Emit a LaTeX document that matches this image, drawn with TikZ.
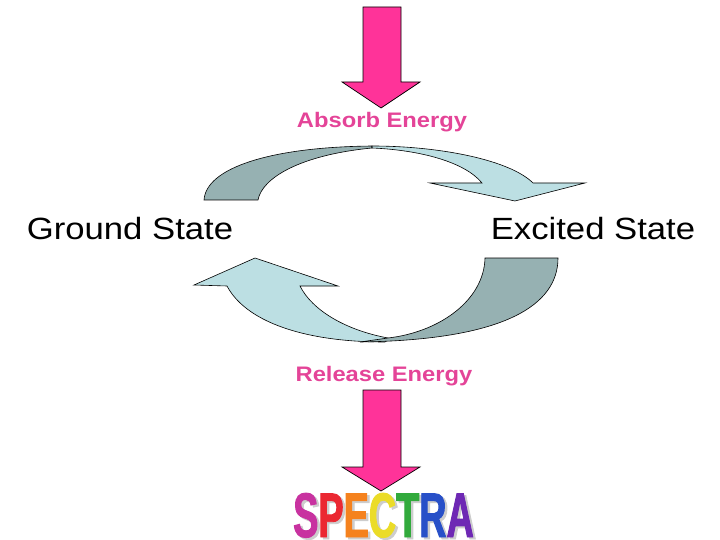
\documentclass[tikz,border=0pt]{standalone}
\usepackage{fontspec}
\setmainfont{Liberation Sans}
\newfontfamily\etikettfont[FakeStretch=1.13]{Liberation Sans}
\newfontfamily\spektrfont[FakeStretch=0.6,FakeBold=1.5]{Liberation Sans}
\definecolor{rosa}{RGB}{255,51,153}
\definecolor{rosatekst}{RGB}{228,68,152}
\definecolor{morkgra}{RGB}{150,177,178}
\definecolor{lysbla}{RGB}{188,223,227}
\definecolor{skygge}{RGB}{205,205,205}
\tikzset{
    %Define style for the pink block arrows
    pil/.style={
           fill=rosa,
           draw=black, line width=0.7pt,
           line join=miter},
    % Define style for the back side of the curved arrows
    bak/.style={
           fill=morkgra,
           draw=black, line width=0.6pt},
    % Define style for the front side of the curved arrows
    front/.style={
           fill=lysbla,
           draw=black, line width=0.6pt},
    % Define style for the state labels
    etikett/.style={
           anchor=base, inner sep=0pt,
           font=\etikettfont\fontsize{30.7}{36}\selectfont},
    energi/.style={
           anchor=base, inner sep=0pt, text=rosatekst,
           font=\etikettfont\bfseries\fontsize{21}{25}\selectfont},
    spektr/.style={
           anchor=base, inner sep=0pt,
           font=\spektrfont\bfseries\fontsize{63}{66}\selectfont}
}
\begin{document}
\begin{tikzpicture}[x=1pt,y=-1pt]
\useasboundingbox (0,0) rectangle (720,540);

% pink arrows
\filldraw[pil] (363,7) -- (401,7) -- (401,82) -- (420,82) -- (381,108)
  -- (342,82) -- (363,82) -- cycle;
\filldraw[pil] (363,390) -- (401,390) -- (401,467) -- (420,467) -- (381,491)
  -- (342,467) -- (363,467) -- cycle;

% upper curved arrow
\filldraw[bak] (204,200) -- (258,200) .. controls (262,178) and (300,155) .. (372,148)
  -- (372,146) .. controls (270,147) and (206,168) .. (204,200) -- cycle;
\filldraw[front] (372,146) .. controls (440,146) and (510,160) .. (533,183)
  -- (585,183) -- (515,201) -- (430,183) -- (482,183)
  .. controls (465,162) and (420,150) .. (372,148) -- cycle;

% lower curved arrow
\filldraw[front] (194,285) -- (255,258) -- (338,286) -- (300,286)
  .. controls (312,310) and (345,330) .. (388,338) -- (385,342)
  .. controls (300,342) and (245,320) .. (227,286) -- cycle;
\filldraw[bak] (485,258) -- (558,258) .. controls (558,305) and (505,340) .. (360,342)
  -- (388,338) .. controls (440,332) and (484,300) .. (485,258) -- cycle;

% labels
\node[etikett] (ground) at (130,240) {Ground State};
\node[etikett] (excited) at (593,240) {Excited State};
\node[energi] (absorb) at (382,128) {Absorb Energy};
\node[energi] (release) at (384,381) {Release Energy};

% spectra
\node[spektr, text=skygge] (skyggen) at (386,539) {SPECTRA};
\node[spektr] (spectra) at (383.5,537)
  {\textcolor[RGB]{200,50,160}{S}\textcolor[RGB]{235,40,50}{P}\textcolor[RGB]{245,130,30}{E}\textcolor[RGB]{235,220,40}{C}\textcolor[RGB]{50,170,60}{T}\textcolor[RGB]{40,80,200}{R}\textcolor[RGB]{110,40,180}{A}};
\end{tikzpicture}
\end{document}
